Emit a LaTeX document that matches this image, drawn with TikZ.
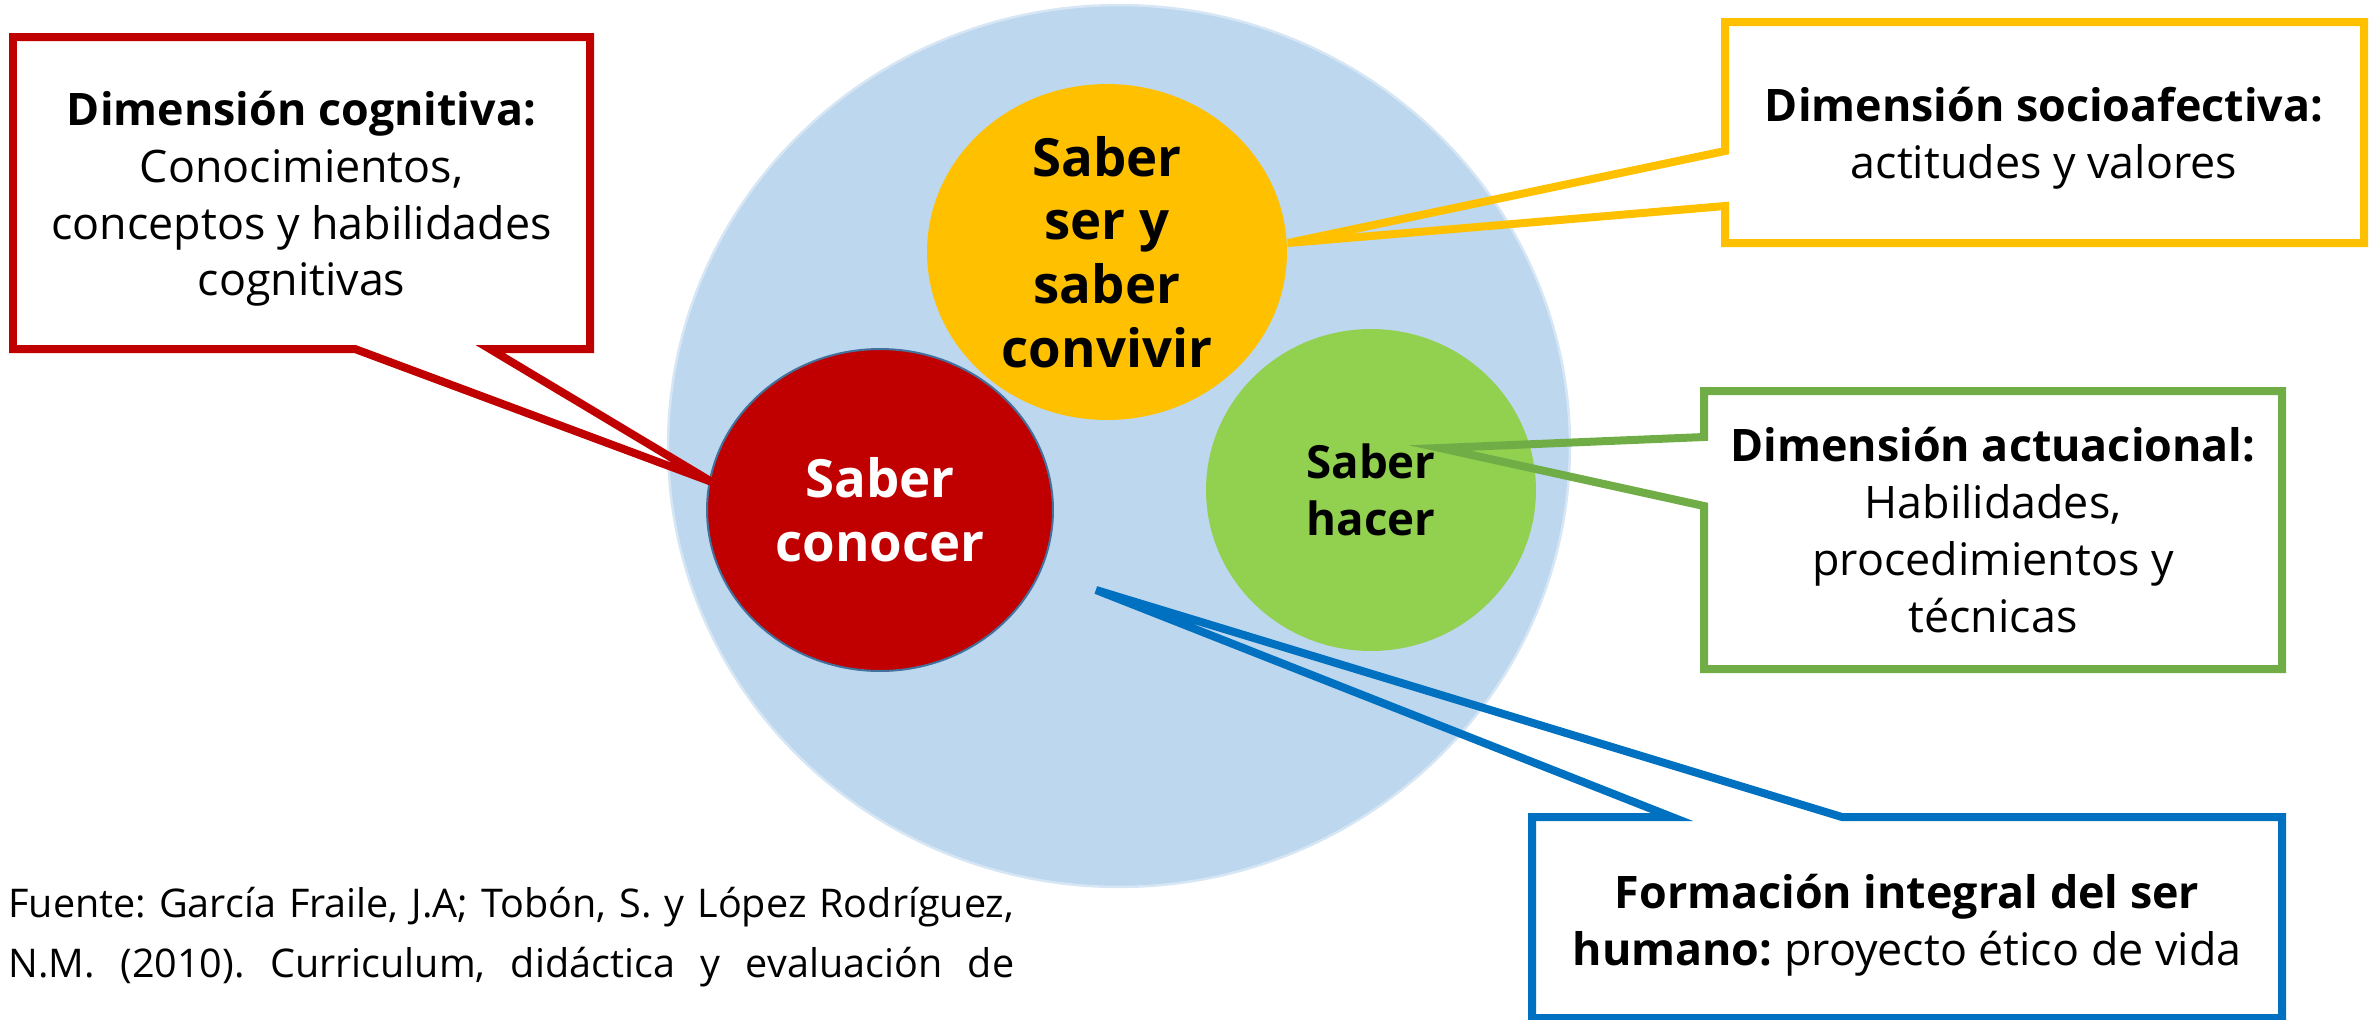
\documentclass[tikz,border=0pt]{standalone}
\usepackage{fontspec}
\setmainfont{Open Sans}
\usetikzlibrary{shapes.geometric}
\definecolor{bgblue}{HTML}{BDD7EE}
\definecolor{bgrim}{HTML}{D6E6F4}
\definecolor{cred}{HTML}{C00000}
\definecolor{cyellow}{HTML}{FFC000}
\definecolor{cgreen}{HTML}{92D050}
\definecolor{cgreenline}{HTML}{70AD47}
\definecolor{cblue}{HTML}{0070C0}
\definecolor{outl}{HTML}{41719C}
\frenchspacing
\begin{document}
\begin{tikzpicture}[x=0.02cm,y=-0.02cm,
  callout/.style={line width=0.16cm, line join=miter},
  boxtext/.style={align=center, inner sep=0pt, font=\fontsize{25.5}{32.3}\selectfont},
  blob/.style={ellipse, inner sep=0pt},
  blobtext/.style={align=center, inner sep=0pt, font=\bfseries\fontsize{30}{36.3}\selectfont},
  srctext/.style={anchor=base west, inner sep=0pt, font=\fontsize{22.5}{34}\selectfont},
  ]
\useasboundingbox (0,0) rectangle (2374,1019);

% big background ellipse
\node[blob, fill=bgblue, draw=bgrim, line width=0.05cm, minimum width=18.04cm, minimum height=17.64cm] (integral) at (1119,446) {};

% inner ellipses
\node[blob, fill=cyellow, minimum width=7.2cm, minimum height=6.72cm,
  label={[blobtext]center:Saber\\ser y\\saber\\convivir}] (convivir) at (1107,252) {};
\node[blob, fill=cred, draw=outl, line width=0.04cm, minimum width=6.92cm, minimum height=6.44cm,
  label={[blobtext, text=white]center:Saber\\conocer}] (conocer) at (880,510) {};
\node[blob, fill=cgreen, minimum width=6.6cm, minimum height=6.44cm,
  label={[blobtext, font=\bfseries\fontsize{26}{32.3}\selectfont]center:Saber\\hacer}] (hacer) at (1371,490) {};

% red callout
\coordinate (rNW) at (13,37);
\coordinate (rNE) at (590,37);
\coordinate (rSE) at (590,349);
\coordinate (rSW) at (13,349);
\coordinate (rP1) at (355,349);
\coordinate (rP2) at (490,349);
\coordinate (rTip) at (712,482);
\draw[callout, cred] (rNW) -- (rNE) -- (rSE) -- (rP2) -- (rTip) -- (rP1) -- (rSW) -- cycle;
\node[boxtext] (cognitiva) at (301.5,199) {\textbf{Dimensión cognitiva:}\\Conocimientos,\\conceptos y habilidades\\cognitivas};

% yellow callout
\coordinate (yNW) at (1725,22);
\coordinate (yNE) at (2364,22);
\coordinate (ySE) at (2364,243);
\coordinate (ySW) at (1725,243);
\coordinate (yP1) at (1725,151);
\coordinate (yP2) at (1725,206);
\coordinate (yTip) at (1288,243);
\draw[callout, cyellow] (yNW) -- (yNE) -- (ySE) -- (ySW) -- (yP2) -- (yTip) -- (yP1) -- cycle;
\node[boxtext] (socio) at (2044,138) {\textbf{Dimensión socioafectiva:}\\actitudes y valores};

% green callout
\coordinate (gNW) at (1704,391);
\coordinate (gNE) at (2282,391);
\coordinate (gSE) at (2282,669);
\coordinate (gSW) at (1704,669);
\coordinate (gP1) at (1704,437);
\coordinate (gP2) at (1704,506);
\coordinate (gTip) at (1440,448);
\draw[callout, cgreenline] (gNW) -- (gNE) -- (gSE) -- (gSW) -- (gP2) -- (gTip) -- (gP1) -- cycle;
\node[boxtext] (actuacional) at (1993,530) {\textbf{Dimensión actuacional:}\\Habilidades,\\procedimientos y\\técnicas};

% blue callout
\coordinate (bNW) at (1532,817);
\coordinate (bNE) at (2282,817);
\coordinate (bSE) at (2282,1018);
\coordinate (bSW) at (1532,1018);
\coordinate (bP1) at (1672,817);
\coordinate (bP2) at (1842,817);
\coordinate (bTip) at (1096,590);
\draw[callout, cblue] (bNW) -- (bP1) -- (bTip) -- (bP2) -- (bNE) -- (bSE) -- (bSW) -- cycle;
\node[boxtext] (formacion) at (1907,925) {\textbf{Formación integral del ser}\\\textbf{humano:} proyecto ético de vida};

% source
\node[srctext] (fuente1) at (8,917) {\makebox[20.12cm][s]{Fuente: García Fraile, J.A; Tobón, S. y López Rodríguez,}};
\node[srctext] (fuente2) at (8,977) {\makebox[20.12cm][s]{N.M. (2010). Curriculum, didáctica y evaluación de}};
\end{tikzpicture}
\end{document}
